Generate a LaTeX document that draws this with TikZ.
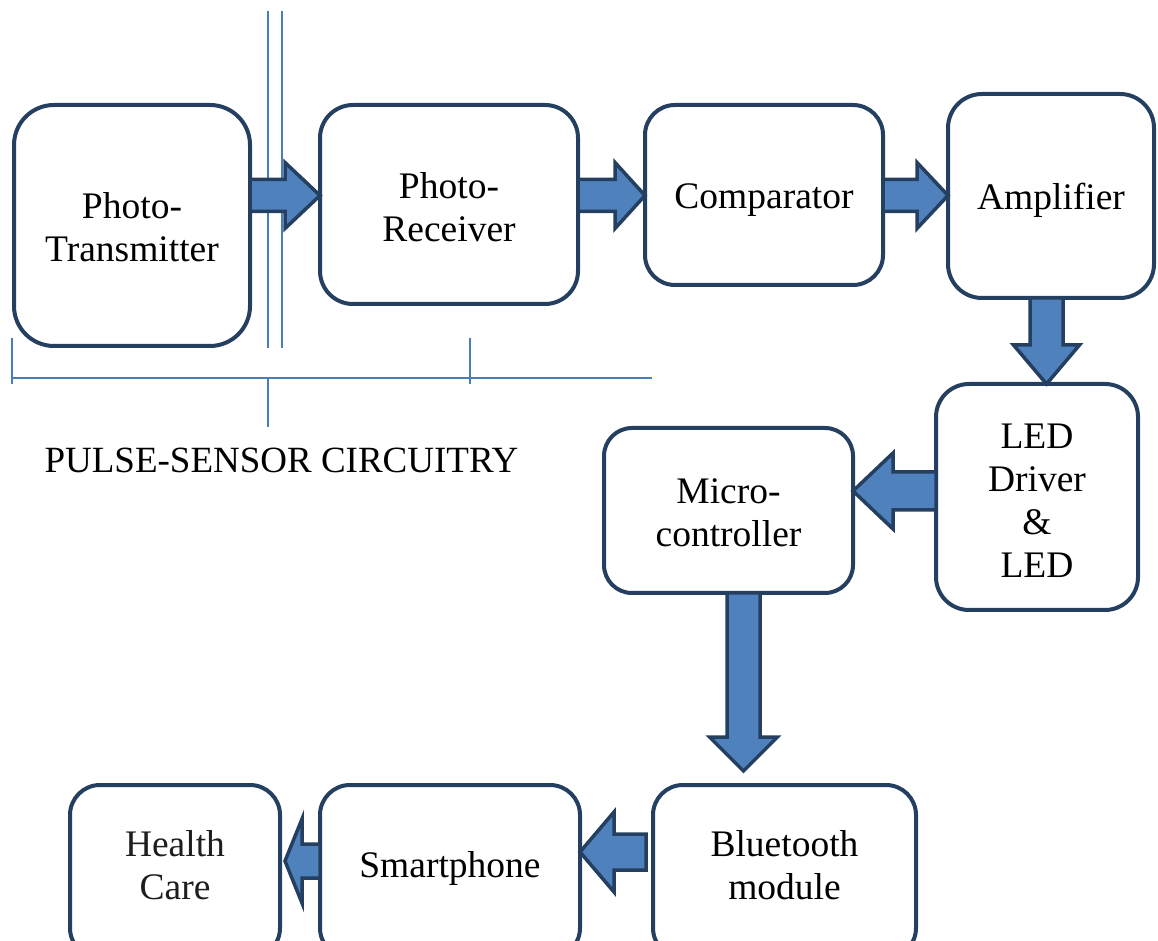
\documentclass[tikz,border=0pt]{standalone}
\usepackage{fontspec}
\setmainfont{Liberation Serif}
\usetikzlibrary{calc}

\definecolor{boxline}{HTML}{243F60}
\definecolor{arrowfill}{HTML}{4F81BD}
\definecolor{guideblue}{HTML}{4A7EBB}
\definecolor{softblack}{HTML}{1E1E1E}

\tikzset{
  block/.style={draw=boxline, line width=4pt, fill=white, rectangle,
    inner sep=0pt, outer sep=0pt},
  blocktext/.style={inner sep=0pt, align=center, font=\fontsize{37.5}{43}\selectfont},
  barrow/.style={draw=boxline, line width=3.5pt, fill=arrowfill, line join=miter},
  guide/.style={draw=guideblue, line width=1.8pt},
  caption/.style={inner sep=0pt, font=\fontsize{37}{42}\selectfont},
}

% Block arrows between two anchors: tail, tip, axis position,
% shaft half width, head half width, head length
\newcommand\arrowRight[6]{%
  \path[barrow] let \p1=(#1), \p2=(#2) in
    (\x1,#3+#4) -- (\x2-#6,#3+#4) -- (\x2-#6,#3+#5) -- (\x2,#3)
    -- (\x2-#6,#3-#5) -- (\x2-#6,#3-#4) -- (\x1,#3-#4) -- cycle;}
\newcommand\arrowLeft[6]{%
  \path[barrow] let \p1=(#1), \p2=(#2) in
    (\x1,#3+#4) -- (\x2+#6,#3+#4) -- (\x2+#6,#3+#5) -- (\x2,#3)
    -- (\x2+#6,#3-#5) -- (\x2+#6,#3-#4) -- (\x1,#3-#4) -- cycle;}
\newcommand\arrowDown[6]{%
  \path[barrow] let \p1=(#1), \p2=(#2) in
    (#3-#4,\y1) -- (#3-#4,\y2+#6) -- (#3-#5,\y2+#6) -- (#3,\y2)
    -- (#3+#5,\y2+#6) -- (#3+#4,\y2+#6) -- (#3+#4,\y1) -- cycle;}

\begin{document}
\begin{tikzpicture}[x=1pt, y=1pt]
\useasboundingbox (0,0) rectangle (1158,940);
\clip (0,0) rectangle (1158,940);

% sensor bracket and separator lines
\draw[guide] (268,929) -- (268,592);
\draw[guide] (282,929) -- (282,592);
\draw[guide] (12,562) -- (652,562);
\draw[guide] (12,602) -- (12,556);
\draw[guide] (470,602) -- (470,556);
\draw[guide] (268,562) -- (268,513);
\node[caption, anchor=base] (cap) at (281.5,467) {PULSE-SENSOR CIRCUITRY};

% signal chain blocks
\node[block, minimum width=236, minimum height=241, rounded corners=40] (PT) at (132,714.5) {};
\node[block, minimum width=258, minimum height=199, rounded corners=33] (PR) at (449,735.5) {};
\node[block, minimum width=238, minimum height=180, rounded corners=30] (CMP) at (764,745) {};
\node[block, minimum width=206, minimum height=204, rounded corners=34] (AMP) at (1051,744) {};
\node[block, minimum width=202, minimum height=226, rounded corners=33] (LED) at (1037,443) {};
\node[block, minimum width=249, minimum height=165, rounded corners=28] (MC) at (728.5,429.5) {};
\node[block, minimum width=263, minimum height=173, rounded corners=30] (BT) at (784.5,68.5) {};
\node[block, minimum width=260, minimum height=173, rounded corners=30] (SP) at (450,68.5) {};
\node[block, minimum width=210, minimum height=173, rounded corners=30] (HC) at (175,68.5) {};

% block labels
\node[blocktext] (PTtext) at ([yshift=-2pt]PT.center) {Photo-\\Transmitter};
\node[blocktext] (PRtext) at ([yshift=-2.5pt]PR.center) {Photo-\\Receiver};
\node[blocktext] (CMPtext) at ([yshift=-5pt]CMP.center) {Comparator};
\node[blocktext] (AMPtext) at ([yshift=-4pt]AMP.center) {Amplifier};
\node[blocktext] (LEDtext) at ([yshift=-4pt]LED.center) {LED\\Driver\\\&\\LED};
\node[blocktext] (MCtext) at ([yshift=-2.5pt]MC.center) {Micro-\\controller};
\node[blocktext] (BTtext) at ([yshift=6pt]BT.center) {Bluetooth\\module};
\node[blocktext] (SPtext) at ([yshift=3.5pt]SP.center) {Smartphone};
\node[blocktext, text=softblack] (HCtext) at ([yshift=6pt]HC.center) {Health\\Care};

% block arrows
\arrowRight{PT.east}{PR.west}{744.5}{16}{33}{35}
\arrowRight{PR.east}{CMP.west}{744.5}{16}{33}{30}
\arrowRight{CMP.east}{AMP.west}{744.5}{16}{33}{31}
\arrowDown{AMP.south}{LED.north}{1046.5}{16.5}{33}{39}
\arrowLeft{LED.west}{MC.east}{449}{19}{38}{40}
\arrowDown{MC.south}{[yshift=14pt]BT.north}{743.5}{16.5}{34}{34}
\arrowLeft{[xshift=-7pt]BT.west}{SP.east}{88}{18}{40}{34}
\arrowLeft{SP.west}{[xshift=5pt]HC.east}{79}{17}{42}{17}
\end{tikzpicture}
\end{document}
